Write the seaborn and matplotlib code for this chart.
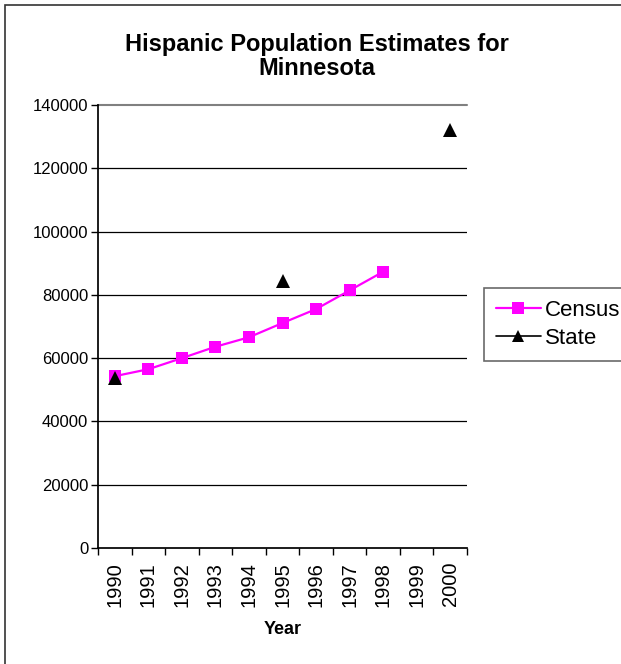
import matplotlib

matplotlib.use("Agg")

import matplotlib.pyplot as plt
import numpy as np
import pandas as pd
import seaborn as sns
from matplotlib.lines import Line2D
from matplotlib.patches import Rectangle

years = ["1990", "1991", "1992", "1993", "1994", "1995", "1996", "1997", "1998", "1999", "2000"]
census_years = ["1990", "1991", "1992", "1993", "1994", "1995", "1996", "1997", "1998"]
census_values = [54300, 56500, 60000, 63600, 66600, 71100, 75500, 81400, 87300]
state_years = ["1990", "1995", "2000"]
state_values = [53800, 84300, 132200]
y_ticks = [0, 20000, 40000, 60000, 80000, 100000, 120000, 140000]

sns.set_theme(style="white")
plt.rcParams["font.family"] = ["Liberation Sans", "DejaVu Sans"]
plt.rcParams["text.color"] = "black"
plt.rcParams["axes.labelcolor"] = "black"
plt.rcParams["xtick.color"] = "black"
plt.rcParams["ytick.color"] = "black"

pos = {year: i for i, year in enumerate(years)}
census = pd.DataFrame({"x": [pos[y] for y in census_years], "value": census_values})
state = pd.DataFrame({"x": [pos[y] for y in state_years], "value": state_values})

fig = plt.figure(figsize=(6.21, 6.64), dpi=100)
ax = fig.add_axes([98 / 621, 1 - 548 / 664, (467 - 98) / 621, (548 - 105) / 664])

sns.lineplot(data=census, x="x", y="value", color="#ff00ff", marker="s",
             markersize=9, markeredgewidth=0, linewidth=1.6, ax=ax)
sns.lineplot(data=state, x="x", y="value", color="black", marker="^",
             markersize=10, markeredgewidth=0, linestyle="", ax=ax)

ax.set_xlim(-0.5, len(years) - 0.5)
ax.set_ylim(0, 140000)
ax.set_yticks(y_ticks)
ax.set_yticklabels([str(v) for v in y_ticks], fontsize=12)
for v in y_ticks[1:-1]:
    ax.axhline(v, color="black", linewidth=0.9, zorder=0)

ax.set_xticks(np.arange(len(years)))
ax.set_xticklabels(years, rotation=90, fontsize=14.5)
ax.set_xticks(np.arange(len(years) + 1) - 0.5, minor=True)
ax.tick_params(axis="x", which="major", length=0, pad=10)
ax.tick_params(axis="x", which="minor", length=5, width=1, color="black", direction="out", bottom=True)
ax.tick_params(axis="y", length=5, width=1, color="black", direction="out", left=True, pad=2)
ax.set_xlabel("Year", fontsize=13, fontweight="bold", labelpad=10)
ax.set_ylabel("")

for side in ["top", "right"]:
    ax.spines[side].set_visible(False)
ax.spines["left"].set_color("black")
ax.spines["bottom"].set_color("black")
ax.axhline(140000, color="#808080", linewidth=1.5, zorder=0, clip_on=False)

fig.text(316.5 / 621, 1 - 33 / 664, "Hispanic Population Estimates for\nMinnesota", fontsize=17,
         fontweight="bold", ha="center", va="top", linespacing=1.08, multialignment="center")

handles = [
    Line2D([], [], color="#ff00ff", marker="s", markersize=8, markeredgewidth=0, linewidth=1.6),
    Line2D([], [], color="black", marker="^", markersize=9, markeredgewidth=0, linewidth=1.2),
]
leg = ax.legend(handles, ["Census", "State"], loc="upper left", bbox_to_anchor=(484 / 621, 1 - 288 / 664),
                bbox_transform=fig.transFigure, fontsize=16, frameon=True, fancybox=False,
                handlelength=2.0, handletextpad=0.2, borderpad=0.55, labelspacing=0.3,
                borderaxespad=0)
leg.get_frame().set_edgecolor("#444444")
leg.get_frame().set_linewidth(1.2)

fig.patches.append(Rectangle((5 / 621, -0.01), 1.02, 1 - 5 / 664 + 0.01, transform=fig.transFigure,
                             fill=False, edgecolor="#333333", linewidth=1.2))

fig.savefig("out.png", dpi=100)
